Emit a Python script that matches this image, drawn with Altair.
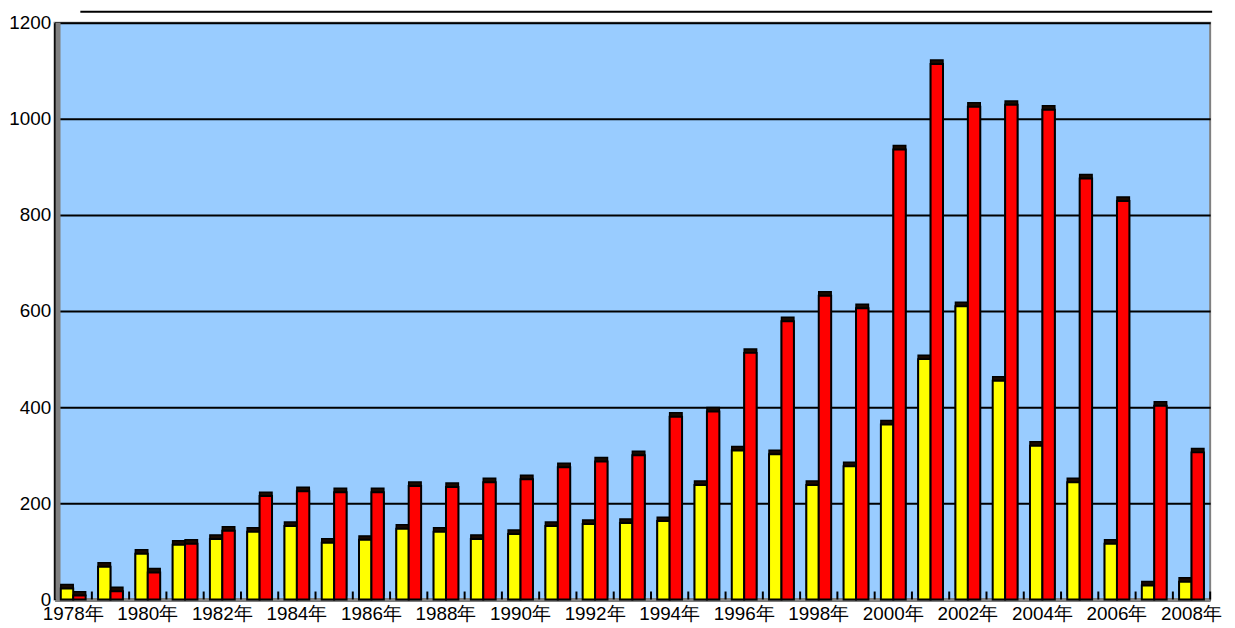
import altair as alt
import pandas as pd

years = list(range(1978, 2009))
series_names = ["系列1", "系列2"]
yellow_vals = [23, 68, 95, 114, 126, 141, 153, 118, 124, 147, 141, 126, 136, 153, 157, 159,
               163, 238, 310, 302, 238, 277, 364, 500, 610, 455, 320, 244, 116, 29, 37]
red_vals = [8, 17, 56, 116, 143, 215, 225, 223, 223, 236, 234, 244, 250, 275, 287, 300,
            380, 391, 513, 579, 632, 606, 936, 1114, 1025, 1029, 1019, 876, 829, 403, 306]
y_ticks = [0, 200, 400, 600, 800, 1000, 1200]

rows = []
for i, yr in enumerate(years):
    rows.append({"year": yr, "series": series_names[0], "value": yellow_vals[i]})
    rows.append({"year": yr, "series": series_names[1], "value": red_vals[i]})
df = pd.DataFrame(rows)
df_years = pd.DataFrame({"year": years})
one = pd.DataFrame({"k": [0]})

W, H = 1166, 582
FONT = "Liberation Sans"
FS = 19

x_enc = alt.X(
    "year:O",
    title=None,
    scale=alt.Scale(paddingInner=0, paddingOuter=0),
    axis=alt.Axis(
        labelExpr="datum.value % 2 == 0 ? datum.value + '年' : ''",
        labelAngle=0,
        labelOverlap=False,
        labelFontSize=FS,
        labelFont=FONT,
        labelColor="black",
        labelPadding=5,
        ticks=False,
        domainColor="#808080",
        domainWidth=4,
        grid=False,
    ),
)
y_enc = alt.Y(
    "value:Q",
    title=None,
    scale=alt.Scale(domain=[0, 1200], nice=False),
    axis=alt.Axis(
        values=y_ticks,
        format="d",
        grid=True,
        gridColor="black",
        gridWidth=2,
        gridOpacity=1,
        ticks=False,
        domainColor="black",
        domainWidth=2,
        labelFontSize=FS,
        labelFont=FONT,
        labelColor="black",
        labelPadding=4,
        minExtent=46,
        maxExtent=46,
    ),
)
xoff = alt.XOffset("series:N", sort=series_names,
                   scale=alt.Scale(paddingInner=0, paddingOuter=0.5))

wall = alt.Chart(one).mark_rect(color="#808080").encode(
    x=alt.value(1), x2=alt.value(6), y=alt.value(0), y2=alt.value(H)
)

shadow = alt.Chart(df).mark_bar(
    xOffset=6, yOffset=-4, fill="#1a0a00", stroke="black", strokeWidth=1.5
).encode(x=x_enc, xOffset=xoff, y=y_enc)

front = alt.Chart(df).mark_bar(
    xOffset=2, stroke="black", strokeWidth=2
).encode(
    x=x_enc,
    xOffset=xoff,
    y=y_enc,
    color=alt.Color("series:N", sort=series_names, legend=None,
                    scale=alt.Scale(domain=series_names, range=["#FFFF00", "#FF0000"])),
)

ticks = alt.Chart(df_years).mark_rule(color="black", strokeWidth=2).encode(
    x=alt.X("year:O", bandPosition=1, title=None,
            scale=alt.Scale(paddingInner=0, paddingOuter=0)),
    y=alt.value(H - 8),
    y2=alt.value(H),
)

table_edge = alt.Chart(one).mark_rule(color="black", strokeWidth=2).encode(
    x=alt.value(26), x2=alt.value(1168), y=alt.value(-11)
)

chart = alt.layer(wall, shadow, front, ticks, table_edge).properties(
    width=W,
    height=H,
    padding={"left": 0, "top": 0, "right": 5, "bottom": 0},
    background="white",
).configure_view(
    fill="#99CCFF", stroke="#808080", strokeWidth=2
)

chart.save("out.html", embed_options={"renderer": "svg", "actions": False})
